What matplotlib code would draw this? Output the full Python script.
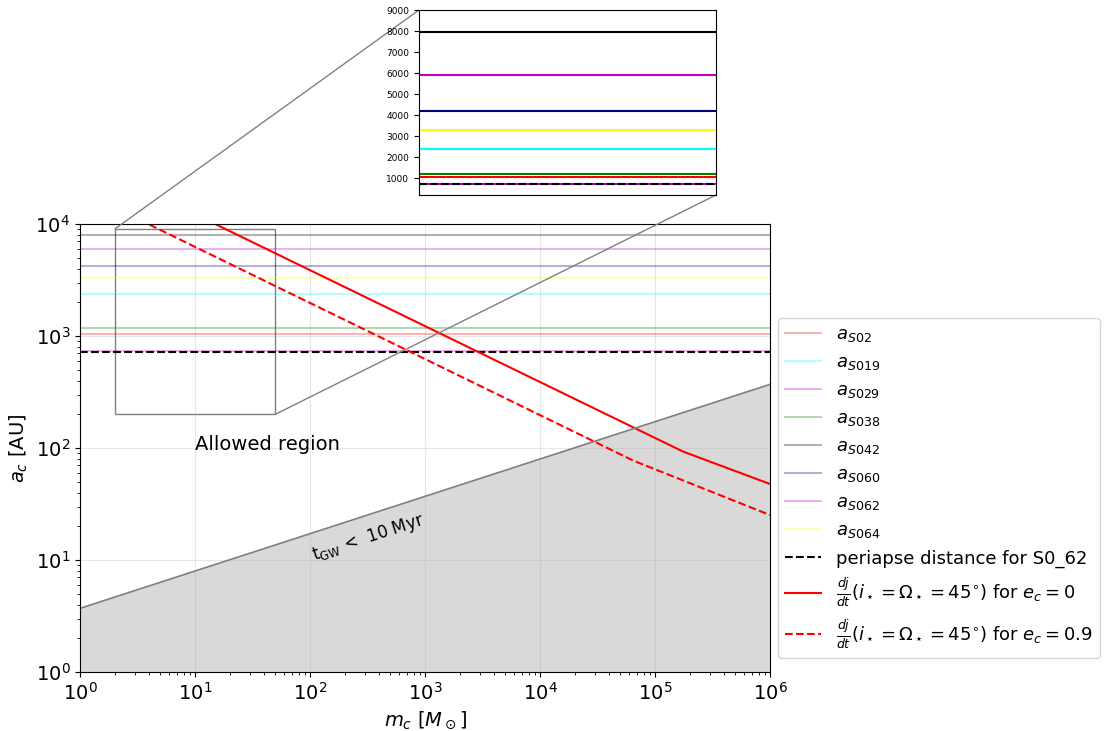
import numpy as np
import matplotlib
matplotlib.use("Agg")
import matplotlib.pyplot as plt
from mpl_toolkits.axes_grid1.inset_locator import mark_inset

# ---- data ----
star_labels = ["S02", "S019", "S029", "S038", "S042", "S060", "S062", "S064"]
star_a = [1035, 2380, 5930, 1180, 7970, 4210, 740, 3290]
star_colors = ["red", "cyan", "m", "g", "k", "navy", "m", "yellow"]

periapse_S062 = 725

gw_m = [1.0, 1.0e6]
gw_a = [3.7, 370.0]

dj_m_e0 = [1.0, 1.75e5, 1.0e6]
dj_a_e0 = [38600.0, 93.0, 47.7]

dj_m_e09 = [1.0, 6.5e4, 1.0e6]
dj_a_e09 = [19800.0, 77.0, 25.2]

xlim = (1.0, 1.0e6)
ylim = (1.0, 1.0e4)
zoom_x = (2.0, 50.0)
zoom_y = (200.0, 9000.0)
inset_yticks = [1000, 2000, 3000, 4000, 5000, 6000, 7000, 8000, 9000]

fig = plt.figure(figsize=(11.08, 7.31), dpi=100)
ax = fig.add_axes([80/1108, 1-672/731, 690/1108, 448/731])

for lab, a, c in zip(star_labels, star_a, star_colors):
    ax.axhline(a, color=c, alpha=0.3, lw=1.5, label=r"$a_{%s}$" % lab)
ax.axhline(periapse_S062, color="k", ls="--", lw=1.5,
           label="periapse distance for S0_62")
ax.plot(dj_m_e0, dj_a_e0, color="red", lw=1.5,
        label=r"$\frac{dj}{dt}(i_\star=\Omega_\star=45^{\circ})$ for $e_c=0$")
ax.plot(dj_m_e09, dj_a_e09, color="red", ls="--", lw=1.5,
        label=r"$\frac{dj}{dt}(i_\star=\Omega_\star=45^{\circ})$ for $e_c=0.9$")
ax.plot(gw_m, gw_a, color="gray", lw=1.2)
ax.fill_between(gw_m, [ylim[0], ylim[0]], gw_a, color="0.85", zorder=0.5)

ax.set_xscale("log")
ax.set_yscale("log")
ax.set_xlim(*xlim)
ax.set_ylim(*ylim)
ax.grid(True, which="major", color="#b0b0b0", alpha=0.3, lw=0.8)
ax.tick_params(labelsize=14)
ax.set_xlabel(r"$m_c\ [M_\odot]$", fontsize=14)
ax.set_ylabel(r"$a_c$ [AU]", fontsize=14)

ax.text(10, 95, "Allowed region", fontsize=14)
ax.text(100, 10, r"$\rm t_{GW}$ <  10 Myr", fontsize=12, rotation=18)

fig.legend(*ax.get_legend_handles_labels(), loc="upper left",
           bbox_to_anchor=(778/1108, 1-318/731), fontsize=13,
           handlelength=2.0, borderaxespad=0)

# inset
axins = fig.add_axes([419/1108, 1-195/731, 297/1108, 185/731])
for a, c in zip(star_a, star_colors):
    axins.axhline(a, color=c, lw=1.5)
axins.axhline(periapse_S062, color="k", ls="--", lw=1.5)
axins.set_xscale("log")
axins.set_xlim(*zoom_x)
axins.set_ylim(*zoom_y)
axins.set_yticks(inset_yticks)
axins.tick_params(axis="y", labelsize=6.5)
axins.set_xticks([])
axins.xaxis.set_minor_locator(matplotlib.ticker.NullLocator())
mark_inset(ax, axins, loc1=2, loc2=4, fc="none", ec="0.5")

fig.savefig("out.png", dpi=100)
